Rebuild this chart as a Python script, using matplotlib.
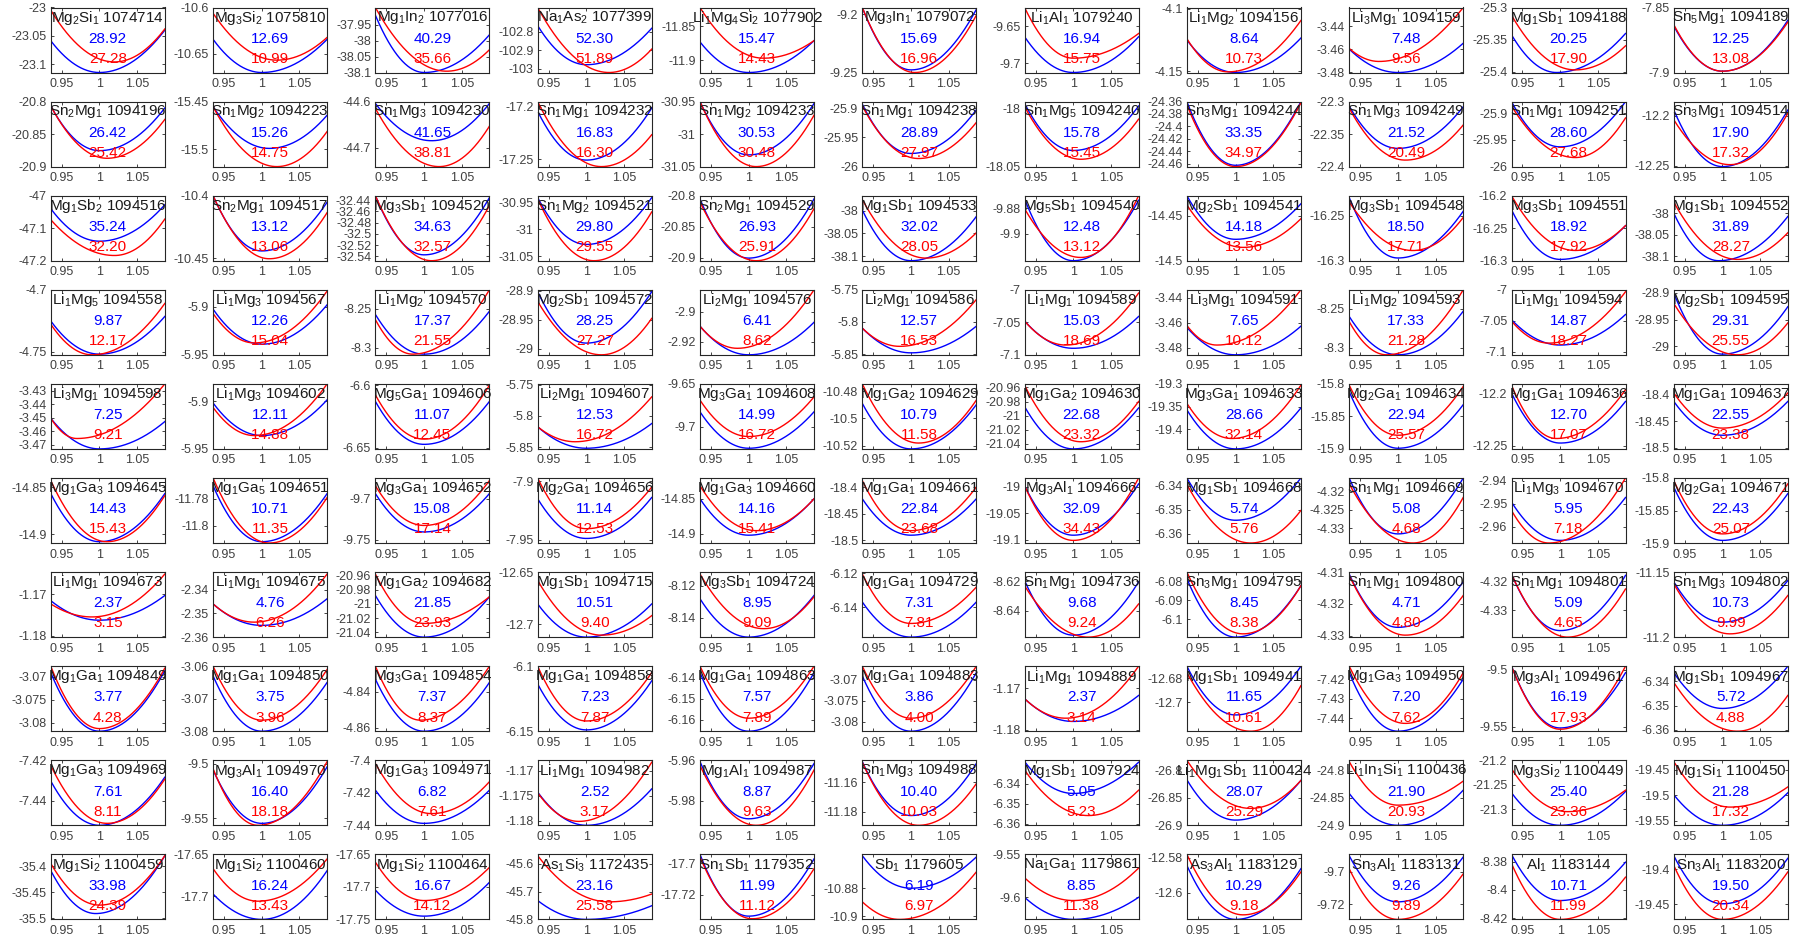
import re
import numpy as np
import matplotlib
matplotlib.use("Agg")
import matplotlib.pyplot as plt

plt.rcParams['font.family'] = ['Liberation Sans', 'DejaVu Sans']
plt.rcParams['mathtext.fontset'] = 'custom'
plt.rcParams['mathtext.rm'] = 'Liberation Sans'
plt.rcParams['mathtext.default'] = 'regular'

# ---------------- data (row-major, 10 rows x 11 columns) ----------------
formulas = [
    "Mg2Si1", "Mg3Si2", "Mg1In2", "Na1As2", "Li1Mg4Si2", "Mg3In1", "Li1Al1", "Li1Mg2", "Li3Mg1", "Mg1Sb1", "Sn5Mg1",
    "Sn2Mg1", "Sn1Mg2", "Sn1Mg3", "Sn1Mg1", "Sn1Mg2", "Sn1Mg1", "Sn1Mg5", "Sn3Mg1", "Sn1Mg3", "Sn1Mg1", "Sn3Mg1",
    "Mg1Sb2", "Sn2Mg1", "Mg3Sb1", "Sn1Mg2", "Sn2Mg1", "Mg1Sb1", "Mg5Sb1", "Mg2Sb1", "Mg3Sb1", "Mg3Sb1", "Mg1Sb1",
    "Li1Mg5", "Li1Mg3", "Li1Mg2", "Mg2Sb1", "Li2Mg1", "Li2Mg1", "Li1Mg1", "Li3Mg1", "Li1Mg2", "Li1Mg1", "Mg2Sb1",
    "Li3Mg1", "Li1Mg3", "Mg5Ga1", "Li2Mg1", "Mg3Ga1", "Mg1Ga2", "Mg1Ga2", "Mg3Ga1", "Mg2Ga1", "Mg1Ga1", "Mg1Ga1",
    "Mg1Ga3", "Mg1Ga5", "Mg3Ga1", "Mg2Ga1", "Mg1Ga3", "Mg1Ga1", "Mg3Al1", "Mg1Sb1", "Sn1Mg1", "Li1Mg3", "Mg2Ga1",
    "Li1Mg1", "Li1Mg1", "Mg1Ga2", "Mg1Sb1", "Mg3Sb1", "Mg1Ga1", "Sn1Mg1", "Sn3Mg1", "Sn1Mg1", "Sn1Mg1", "Sn1Mg3",
    "Mg1Ga1", "Mg1Ga1", "Mg3Ga1", "Mg1Ga1", "Mg1Ga1", "Mg1Ga1", "Li1Mg1", "Mg1Sb1", "Mg1Ga3", "Mg3Al1", "Mg1Sb1",
    "Mg1Ga3", "Mg3Al1", "Mg1Ga3", "Li1Mg1", "Mg1Al1", "Sn1Mg3", "Mg1Sb1", "Li1Mg1Sb1", "Li1In1Si1", "Mg3Si2", "Mg1Si1",
    "Mg1Si2", "Mg1Si2", "Mg1Si2", "As1Si3", "Sn1Sb1", "Sb1", "Na1Ga1", "As3Al1", "Sn3Al1", "Al1", "Sn3Al1",
]

ids = [
    "1074714", "1075810", "1077016", "1077399", "1077902", "1079072", "1079240", "1094156", "1094159", "1094188", "1094189",
    "1094196", "1094223", "1094230", "1094232", "1094233", "1094238", "1094240", "1094244", "1094249", "1094251", "1094514",
    "1094516", "1094517", "1094520", "1094521", "1094529", "1094533", "1094540", "1094541", "1094548", "1094551", "1094552",
    "1094558", "1094567", "1094570", "1094572", "1094576", "1094586", "1094589", "1094591", "1094593", "1094594", "1094595",
    "1094598", "1094602", "1094606", "1094607", "1094608", "1094629", "1094630", "1094633", "1094634", "1094636", "1094637",
    "1094645", "1094651", "1094652", "1094656", "1094660", "1094661", "1094666", "1094668", "1094669", "1094670", "1094671",
    "1094673", "1094675", "1094682", "1094715", "1094724", "1094729", "1094736", "1094795", "1094800", "1094801", "1094802",
    "1094849", "1094850", "1094854", "1094858", "1094863", "1094883", "1094889", "1094941", "1094950", "1094961", "1094967",
    "1094969", "1094970", "1094971", "1094982", "1094987", "1094988", "1097924", "1100424", "1100436", "1100449", "1100450",
    "1100459", "1100460", "1100464", "1172435", "1179352", "1179605", "1179861", "1183129", "1183131", "1183144", "1183200",
]

blue_vals = [
    28.92, 12.69, 40.29, 52.30, 15.47, 15.69, 16.94, 8.64, 7.48, 20.25, 12.25,
    26.42, 15.26, 41.65, 16.83, 30.53, 28.89, 15.78, 33.35, 21.52, 28.60, 17.90,
    35.24, 13.12, 34.63, 29.80, 26.93, 32.02, 12.48, 14.18, 18.50, 18.92, 31.89,
    9.87, 12.26, 17.37, 28.25, 6.41, 12.57, 15.03, 7.65, 17.33, 14.87, 29.31,
    7.25, 12.11, 11.07, 12.53, 14.99, 10.79, 22.68, 28.66, 22.94, 12.70, 22.55,
    14.43, 10.71, 15.08, 11.14, 14.16, 22.84, 32.09, 5.74, 5.08, 5.95, 22.43,
    2.37, 4.76, 21.85, 10.51, 8.95, 7.31, 9.68, 8.45, 4.71, 5.09, 10.73,
    3.77, 3.75, 7.37, 7.23, 7.57, 3.86, 2.37, 11.65, 7.20, 16.19, 5.72,
    7.61, 16.40, 6.82, 2.52, 8.87, 10.40, 5.05, 28.07, 21.90, 25.40, 21.28,
    33.98, 16.24, 16.67, 23.16, 11.99, 6.19, 8.85, 10.29, 9.26, 10.71, 19.50,
]

red_vals = [
    27.28, 10.99, 35.66, 51.89, 14.43, 16.96, 15.75, 10.73, 9.56, 17.90, 13.08,
    25.42, 14.75, 38.81, 16.30, 30.48, 27.97, 15.45, 34.97, 20.49, 27.68, 17.32,
    32.20, 13.06, 32.57, 29.55, 25.91, 28.05, 13.12, 13.56, 17.71, 17.92, 28.27,
    12.17, 15.04, 21.55, 27.27, 8.62, 16.53, 18.69, 10.12, 21.28, 18.27, 25.55,
    9.21, 14.88, 12.45, 16.72, 16.72, 11.58, 23.32, 32.14, 25.57, 17.07, 23.38,
    15.43, 11.35, 17.14, 12.53, 15.41, 23.68, 34.43, 5.76, 4.68, 7.18, 25.07,
    3.15, 6.26, 23.93, 9.40, 9.09, 7.81, 9.24, 8.38, 4.80, 4.65, 9.99,
    4.28, 3.96, 8.37, 7.87, 7.89, 4.00, 3.14, 10.61, 7.62, 17.93, 4.88,
    8.11, 18.18, 7.61, 3.17, 9.63, 10.03, 5.23, 25.29, 20.93, 23.36, 17.32,
    24.39, 13.43, 14.12, 25.58, 11.12, 6.97, 11.38, 9.18, 9.89, 11.99, 20.34,
]

T6a = ["-24.36", "-24.38", "-24.4", "-24.42", "-24.44", "-24.46"]
T6b = ["-32.44", "-32.46", "-32.48", "-32.5", "-32.52", "-32.54"]
T5a = ["-20.96", "-20.98", "-21", "-21.02", "-21.04"]
ytick_labels = [
    ["-23", "-23.05", "-23.1"], ["-10.6", "-10.65"], ["-37.95", "-38", "-38.05", "-38.1"], ["-102.8", "-102.9", "-103"],
    ["-11.85", "-11.9"], ["-9.2", "-9.25"], ["-9.65", "-9.7"], ["-4.1", "-4.15"], ["-3.44", "-3.46", "-3.48"],
    ["-25.3", "-25.35", "-25.4"], ["-7.85", "-7.9"],
    ["-20.8", "-20.85", "-20.9"], ["-15.45", "-15.5"], ["-44.6", "-44.7"], ["-17.2", "-17.25"], ["-30.95", "-31", "-31.05"],
    ["-25.9", "-25.95", "-26"], ["-18", "-18.05"], T6a, ["-22.3", "-22.35", "-22.4"], ["-25.9", "-25.95", "-26"], ["-12.2", "-12.25"],
    ["-47", "-47.1", "-47.2"], ["-10.4", "-10.45"], T6b, ["-30.95", "-31", "-31.05"], ["-20.8", "-20.85", "-20.9"],
    ["-38", "-38.05", "-38.1"], ["-9.88", "-9.9"], ["-14.45", "-14.5"], ["-16.25", "-16.3"], ["-16.2", "-16.25", "-16.3"],
    ["-38", "-38.05", "-38.1"],
    ["-4.7", "-4.75"], ["-5.9", "-5.95"], ["-8.25", "-8.3"], ["-28.9", "-28.95", "-29"], ["-2.9", "-2.92"],
    ["-5.75", "-5.8", "-5.85"], ["-7", "-7.05", "-7.1"], ["-3.44", "-3.46", "-3.48"], ["-8.25", "-8.3"], ["-7", "-7.05", "-7.1"],
    ["-28.9", "-28.95", "-29"],
    ["-3.43", "-3.44", "-3.45", "-3.46", "-3.47"], ["-5.9", "-5.95"], ["-6.6", "-6.65"], ["-5.75", "-5.8", "-5.85"],
    ["-9.65", "-9.7"], ["-10.48", "-10.5", "-10.52"], T5a, ["-19.3", "-19.35", "-19.4"], ["-15.8", "-15.85", "-15.9"],
    ["-12.2", "-12.25"], ["-18.4", "-18.45", "-18.5"],
    ["-14.85", "-14.9"], ["-11.78", "-11.8"], ["-9.7", "-9.75"], ["-7.9", "-7.95"], ["-14.85", "-14.9"],
    ["-18.4", "-18.45", "-18.5"], ["-19", "-19.05", "-19.1"], ["-6.34", "-6.35", "-6.36"], ["-4.32", "-4.325", "-4.33"],
    ["-2.94", "-2.95", "-2.96"], ["-15.8", "-15.85", "-15.9"],
    ["-1.17", "-1.18"], ["-2.34", "-2.35", "-2.36"], T5a, ["-12.65", "-12.7"], ["-8.12", "-8.14"], ["-6.12", "-6.14"],
    ["-8.62", "-8.64"], ["-6.08", "-6.09", "-6.1"], ["-4.31", "-4.32", "-4.33"], ["-4.32", "-4.33"], ["-11.15", "-11.2"],
    ["-3.07", "-3.075", "-3.08"], ["-3.06", "-3.07", "-3.08"], ["-4.84", "-4.86"], ["-6.1", "-6.15"],
    ["-6.14", "-6.15", "-6.16"], ["-3.07", "-3.075", "-3.08"], ["-1.17", "-1.18"], ["-12.68", "-12.7"],
    ["-7.42", "-7.43", "-7.44"], ["-9.5", "-9.55"], ["-6.34", "-6.35", "-6.36"],
    ["-7.42", "-7.44"], ["-9.5", "-9.55"], ["-7.4", "-7.42", "-7.44"], ["-1.17", "-1.175", "-1.18"], ["-5.96", "-5.98"],
    ["-11.16", "-11.18"], ["-6.34", "-6.35", "-6.36"], ["-26.8", "-26.85", "-26.9"], ["-24.8", "-24.85", "-24.9"],
    ["-21.2", "-21.25", "-21.3"], ["-19.45", "-19.5", "-19.55"],
    ["-35.4", "-35.45", "-35.5"], ["-17.65", "-17.7"], ["-17.65", "-17.7", "-17.75"], ["-45.6", "-45.7", "-45.8"],
    ["-17.7", "-17.72"], ["-10.88", "-10.9"], ["-9.55", "-9.6"], ["-12.58", "-12.6"], ["-9.7", "-9.72"],
    ["-8.38", "-8.4", "-8.42"], ["-19.4", "-19.45"],
]

# energy window (eV) read for each panel: (low, high)
ylims = [
    (-23.115, -23.005), (-10.67, -10.6), (-38.1, -37.895), (-103.02, -102.67), (-11.918, -11.822), (-9.25, -9.194),
    (-9.713, -9.624), (-4.151, -4.099), (-3.48, -3.4237), (-25.4015, -25.3), (-7.899, -7.85),
    (-20.898, -20.8), (-15.5185, -15.45), (-44.741, -44.604), (-17.257, -17.195), (-31.05, -30.95), (-25.997, -25.889),
    (-18.048, -17.994), (-24.465, -24.36), (-22.4, -22.3), (-25.996, -25.878), (-12.2507, -12.186),
    (-47.2, -47.0), (-10.452, -10.4), (-32.548, -32.432), (-31.0585, -30.937), (-20.905, -20.8), (-38.11, -37.967),
    (-9.921, -9.870), (-14.497, -14.428), (-16.297, -16.228), (-16.298, -16.2), (-38.11, -37.96),
    (-4.7526, -4.7), (-5.9474, -5.8825), (-8.309, -8.226), (-29.01, -28.898), (-2.929, -2.885), (-5.851, -5.75),
    (-7.1, -7.0), (-3.4857, -3.4337), (-8.309, -8.226), (-7.105, -7.0), (-29.016, -28.894),
    (-3.473, -3.425), (-5.9487, -5.882), (-6.651, -6.599), (-5.853, -5.749), (-9.7258, -9.65), (-10.5224, -10.4748),
    (-21.047, -20.955), (-19.443, -19.3), (-15.9, -15.8), (-12.253, -12.191), (-18.502, -18.38),
    (-14.909, -14.8405), (-11.813, -11.7643), (-9.754, -9.675), (-7.9528, -7.8972), (-14.913, -14.82), (-18.505, -18.383),
    (-19.106, -18.983), (-6.3638, -6.3368), (-4.3341, -4.3162), (-2.967, -2.9389), (-15.9, -15.8),
    (-1.1803, -1.1647), (-2.36, -2.3326), (-21.047, -20.955), (-12.7125, -12.65), (-8.152, -8.1114), (-6.1577, -6.1192),
    (-8.658, -8.6137), (-6.1092, -6.0753), (-4.3304, -4.31), (-4.3391, -4.3169), (-11.2, -11.15),
    (-3.0818, -3.0677), (-3.08, -3.06), (-4.8618, -4.826), (-6.149, -6.1), (-6.1656, -6.1344), (-3.0822, -3.0668),
    (-1.1803, -1.1647), (-12.7243, -12.67), (-7.4468, -7.4129), (-9.554, -9.497), (-6.3605, -6.3338),
    (-7.4523, -7.42), (-9.5565, -9.497), (-7.44, -7.4), (-1.1809, -1.1679), (-5.9923, -5.96), (-11.1893, -11.1449),
    (-6.3607, -6.3284), (-26.9, -26.781), (-24.9, -24.781), (-21.333, -21.2), (-19.559, -19.432),
    (-35.5025, -35.3775), (-17.728, -17.65), (-17.75, -17.65), (-45.8, -45.567), (-17.7358, -17.6942), (-10.9023, -10.8558),
    (-9.6258, -9.55), (-12.6152, -12.5782), (-9.7292, -9.6892), (-8.4209, -8.3749), (-19.4713, -19.3787),
]

# curve read-outs: (energy at left end, minimum energy, energy at right end) as
# fraction of the panel's energy window, and scale factor at the minimum
blue_curve = [
    (0.51, 0.0, 0.68, 1.0), (0.51, 0.0, 0.51, 1.0), (0.88, 0.0, 0.58, 1.0), (0.72, 0.12, 0.68, 1.0), (0.47, 0.0, 0.49, 1.0),
    (1.0, 0.04, 0.97, 1.0), (0.55, 0.0, 0.55, 1.0), (0.5, 0.0, 0.53, 1.0), (0.36, 0.0, 0.45, 1.0), (0.58, 0.0, 0.6, 0.995),
    (0.71, 0.0, 0.8, 1.0),
    (0.93, 0.23, 0.9, 1.0), (0.92, 0.28, 0.79, 1.01), (1.0, 0.41, 1.0, 1.01), (0.85, 0.1, 0.9, 1.0), (1.0, 0.18, 0.97, 1.0),
    (0.96, 0.18, 0.87, 1.0), (0.97, 0.22, 0.93, 1.0), (1.0, 0.02, 1.0, 1.0), (0.93, 0.28, 0.92, 1.0), (1.0, 0.28, 1.0, 1.0),
    (0.87, 0.0, 0.87, 1.0),
    (0.8, 0.3, 0.86, 1.0), (1.0, 0.15, 0.9, 1.0), (1.0, 0.09, 0.97, 1.0), (0.97, 0.25, 0.97, 1.0), (0.95, 0.04, 0.95, 1.0),
    (0.78, 0.0, 0.68, 1.0), (0.95, 0.0, 0.93, 1.0), (1.0, 0.3, 0.87, 1.0), (0.97, 0.0, 0.75, 1.0), (0.78, 0.0, 0.53, 1.0),
    (0.73, 0.0, 0.68, 0.995),
    (0.52, 0.01, 0.59, 1.0), (0.69, 0.13, 0.76, 1.0), (0.62, 0.01, 0.67, 1.0), (0.97, 0.18, 0.97, 1.0), (0.44, 0.0, 0.5, 1.0),
    (0.41, 0.03, 0.44, 1.0), (0.52, 0.1, 0.59, 1.0), (0.42, 0.0, 0.44, 1.0), (0.59, 0.0, 0.67, 1.0), (0.54, 0.15, 0.62, 1.0),
    (0.95, 0.01, 0.74, 1.0),
    (0.47, 0.0, 0.42, 1.0), (0.7, 0.19, 0.75, 1.0), (0.73, 0.07, 0.73, 1.0), (0.34, 0.01, 0.39, 1.0), (0.57, 0.01, 0.57, 1.0),
    (0.7, 0.0, 0.68, 1.0), (0.65, 0.0, 0.63, 1.0), (0.6, 0.0, 0.63, 1.0), (0.88, 0.01, 0.68, 1.0), (0.86, 0.09, 0.73, 1.0),
    (0.73, 0.21, 0.73, 1.0),
    (0.76, 0.02, 0.76, 1.0), (0.88, 0.02, 0.76, 1.0), (0.76, 0.17, 0.76, 1.0), (0.68, 0.07, 0.7, 1.0), (0.68, 0.12, 0.68, 1.0),
    (0.68, 0.12, 0.68, 1.0), (0.88, 0.12, 0.91, 1.0), (1.0, 0.35, 1.0, 1.0), (1.0, 0.14, 1.0, 1.0), (0.63, 0.04, 0.7, 1.0),
    (0.86, 0.04, 0.76, 1.0),
    (0.56, 0.26, 0.64, 1.0), (0.51, 0.18, 0.59, 1.0), (0.64, 0.0, 0.62, 1.0), (0.51, 0.0, 0.51, 1.0), (0.59, 0.0, 0.64, 1.0),
    (0.54, 0.0, 0.54, 1.0), (0.87, 0.03, 0.85, 1.0), (0.9, 0.0, 0.79, 1.0), (0.97, 0.15, 0.85, 1.0), (0.97, 0.1, 0.95, 1.0),
    (0.85, 0.23, 0.87, 1.0),
    (0.9, 0.0, 0.93, 1.0), (0.85, 0.0, 0.75, 1.0), (0.8, 0.0, 0.75, 1.0), (0.72, 0.0, 0.77, 1.0), (0.9, 0.0, 0.9, 1.0),
    (0.85, 0.0, 0.9, 1.0), (0.5, 0.15, 0.55, 1.0), (1.0, 0.25, 1.0, 1.0), (0.9, 0.0, 0.8, 1.0), (1.0, 0.05, 0.9, 1.0),
    (0.9, 0.35, 1.0, 1.0),
    (0.68, 0.0, 0.74, 1.0), (0.85, 0.03, 0.9, 1.0), (0.54, 0.03, 0.54, 1.0), (0.51, 0.0, 0.56, 1.0), (0.98, 0.1, 0.95, 1.0),
    (0.98, 0.15, 0.95, 1.0), (0.98, 0.49, 0.97, 1.0), (0.7, 0.08, 0.69, 1.0), (0.49, 0.0, 0.54, 1.0), (0.5, 0.0, 0.52, 1.0),
    (0.47, 0.0, 0.5, 1.0),
    (0.75, 0.09, 0.98, 0.995), (0.39, 0.0, 0.75, 1.0), (0.45, 0.05, 0.57, 1.0), (0.29, 0.0, 0.21, 1.0), (1.0, 0.05, 0.93, 1.0),
    (0.98, 0.48, 0.96, 1.0), (0.34, 0.0, 0.34, 1.0), (0.83, 0.0, 0.78, 1.0), (0.98, 0.27, 0.96, 1.0), (1.0, 0.29, 0.88, 1.0),
    (0.98, 0.24, 0.94, 1.0),
]

red_curve = [
    (1.0, 0.17, 0.70, 1.02), (0.91, 0.19, 0.54, 1.02), (1.0, 0.02, 0.35, 1.03), (1.0, 0.0, 0.36, 1.03), (1.0, 0.22, 0.49, 1.02),
    (1.0, 0.0, 0.88, 1.005), (1.0, 0.22, 0.6, 1.0), (0.52, 0.01, 0.8, 0.99), (0.37, 0.17, 1.0, 0.975), (0.88, 0.04, 0.41, 1.02),
    (0.73, 0.0, 0.77, 1.0),
    (0.93, 0.11, 0.72, 1.01), (0.92, 0.0, 0.54, 1.02), (0.92, 0.0, 0.64, 1.02), (1.0, 0.0, 0.49, 1.02), (1.0, 0.0, 0.79, 1.01),
    (0.93, 0.1, 0.67, 1.01), (0.92, 0.08, 0.72, 1.01), (0.95, 0.0, 0.98, 1.0), (0.9, 0.1, 0.64, 1.01), (0.93, 0.11, 0.74, 1.02),
    (0.72, 0.03, 0.82, 1.01),
    (0.63, 0.08, 0.64, 1.02), (1.0, 0.03, 0.74, 1.01), (1.0, 0.0, 0.85, 1.01), (0.95, 0.0, 0.75, 1.01), (0.9, 0.0, 0.8, 1.01),
    (0.94, 0.04, 0.43, 1.02), (0.8, 0.05, 1.0, 1.01), (0.85, 0.17, 0.63, 1.01), (0.9, 0.12, 0.65, 1.02), (1.0, 0.14, 0.53, 1.02),
    (0.9, 0.02, 0.43, 1.02),
    (0.47, 0.0, 0.79, 0.99), (0.62, 0.15, 0.98, 0.99), (0.54, 0.01, 1.0, 0.985), (0.82, 0.0, 0.56, 1.02), (0.44, 0.1, 1.0, 0.985),
    (0.41, 0.13, 0.85, 0.985), (0.52, 0.15, 0.95, 0.99), (0.45, 0.15, 1.0, 0.975), (0.51, 0.0, 1.0, 0.985), (0.52, 0.18, 0.97, 0.985),
    (0.79, 0.0, 0.49, 1.02),
    (0.47, 0.16, 1.0, 0.97), (0.63, 0.19, 1.0, 0.99), (0.83, 0.15, 0.98, 1.0), (0.34, 0.11, 0.8, 0.985), (0.75, 0.19, 0.8, 1.0),
    (1.0, 0.09, 0.75, 1.01), (0.98, 0.11, 0.73, 1.01), (0.7, 0.16, 0.98, 0.995), (0.98, 0.21, 0.96, 1.0), (0.98, 0.16, 0.91, 0.995),
    (0.86, 0.32, 0.86, 1.0),
    (0.96, 0.02, 0.73, 1.01), (1.0, 0.0, 0.7, 1.01), (0.88, 0.27, 0.96, 1.0), (1.0, 0.22, 0.86, 1.0), (0.88, 0.19, 0.68, 1.01),
    (0.96, 0.19, 0.86, 1.0), (0.88, 0.04, 1.0, 1.0), (0.9, 0.0, 0.5, 1.02), (0.91, 0.0, 0.7, 1.02), (0.5, 0.0, 1.0, 0.985),
    (0.96, 0.14, 0.91, 1.0),
    (0.51, 0.31, 0.97, 0.99), (0.51, 0.23, 0.97, 0.99), (0.97, 0.21, 0.62, 1.0), (0.87, 0.03, 0.33, 1.02), (0.97, 0.13, 0.62, 1.02),
    (0.97, 0.21, 0.77, 1.0), (0.79, 0.0, 0.51, 1.02), (1.0, 0.05, 0.79, 1.01), (0.95, 0.03, 0.64, 1.01), (0.97, 0.0, 0.74, 1.01),
    (0.82, 0.05, 0.64, 1.01),
    (1.0, 0.04, 0.97, 1.0), (1.0, 0.17, 0.95, 1.0), (1.0, 0.17, 1.0, 0.995), (1.0, 0.14, 0.9, 1.0), (1.0, 0.2, 1.0, 1.0),
    (1.0, 0.2, 1.0, 1.0), (0.5, 0.2, 1.0, 0.99), (0.9, 0.0, 0.7, 1.02), (1.0, 0.12, 0.9, 1.01), (1.0, 0.03, 1.0, 1.0),
    (0.75, 0.0, 0.55, 1.02),
    (0.92, 0.03, 0.71, 1.01), (0.87, 0.0, 0.98, 0.995), (0.95, 0.18, 0.67, 1.01), (0.5, 0.06, 0.97, 0.99), (0.92, 0.0, 0.85, 1.01),
    (0.97, 0.0, 0.64, 1.01), (0.85, 0.15, 0.54, 1.02), (1.0, 0.26, 0.69, 1.02), (0.98, 0.31, 0.68, 1.0), (0.87, 0.21, 0.54, 1.01),
    (0.98, 0.28, 0.59, 1.01),
    (0.86, 0.22, 0.98, 1.0), (0.78, 0.28, 0.93, 0.995), (0.88, 0.29, 0.8, 1.0), (0.98, 0.27, 0.39, 1.03), (0.96, 0.01, 0.78, 1.005),
    (0.27, 0.0, 0.73, 0.985), (0.64, 0.29, 0.79, 1.0), (1.0, 0.07, 0.73, 1.01), (0.78, 0.0, 0.7, 1.0), (0.86, 0.0, 0.65, 1.0),
    (0.83, 0.0, 0.73, 1.0),
]

x_ticks = [0.95, 1.0, 1.05]
x_tick_labels = ["0.95", "1", "1.05"]
scale_range = (0.9355, 1.0867)

# ---------------- drawing ----------------
NCOL, NROW = 11, 10
FW, FH = 1809, 942
fig = plt.figure(figsize=(FW / 100, FH / 100), dpi=100)

xs = np.linspace(scale_range[0], scale_range[1], 300)


def energy_curve(lo, hi, spec):
    L, M, R, xm = spec
    xl, xr = scale_range
    fl = M + (L - M) * ((xs - xm) / (xl - xm)) ** 2
    fr = M + (R - M) * ((xs - xm) / (xr - xm)) ** 2
    f = np.where(xs < xm, fl, fr)
    return lo + f * (hi - lo)


def chem(s):
    return re.sub(r"(\d+)", r"$_{\1}$", s)


AX_W, AX_H = 114, 65
for k in range(NCOL * NROW):
    r, c = divmod(k, NCOL)
    left_px = 50.8 + 162.3 * c
    top_px = 7.5 + 94.1 * r
    ax = fig.add_axes([left_px / FW, 1 - (top_px + AX_H) / FH, AX_W / FW, AX_H / FH])
    lo, hi = ylims[k]
    ax.plot(xs, energy_curve(lo, hi, blue_curve[k]), color="#0000ff", lw=1.0)
    ax.plot(xs, energy_curve(lo, hi, red_curve[k]), color="#ff0000", lw=1.0)
    ticks = [float(t) for t in ytick_labels[k]]
    ax.set_xlim(*scale_range)
    ax.set_ylim(min(lo, min(ticks)), max(hi, max(ticks)))
    ax.set_yticks(ticks)
    ax.set_yticklabels(ytick_labels[k])
    ax.set_xticks(x_ticks)
    ax.set_xticklabels(x_tick_labels)
    ax.tick_params(direction="in", length=2.5, width=0.6, color="#262626",
                   labelcolor="#404040", labelsize=9, pad=3, top=True, right=True)
    ax.tick_params(axis="x", pad=4)
    for sp in ax.spines.values():
        sp.set_color("#262626")
        sp.set_linewidth(0.8)
    ax.text(0.5, 0.84, chem(formulas[k]) + " " + ids[k], transform=ax.transAxes,
            ha="center", va="center", fontsize=11, color="#1a1a1a")
    ax.text(0.5, 0.52, f"{blue_vals[k]:.2f}", transform=ax.transAxes,
            ha="center", va="center", fontsize=11, color="#0000ff")
    ax.text(0.5, 0.21, f"{red_vals[k]:.2f}", transform=ax.transAxes,
            ha="center", va="center", fontsize=11, color="#ff0000")

fig.savefig("out.png", dpi=100)
